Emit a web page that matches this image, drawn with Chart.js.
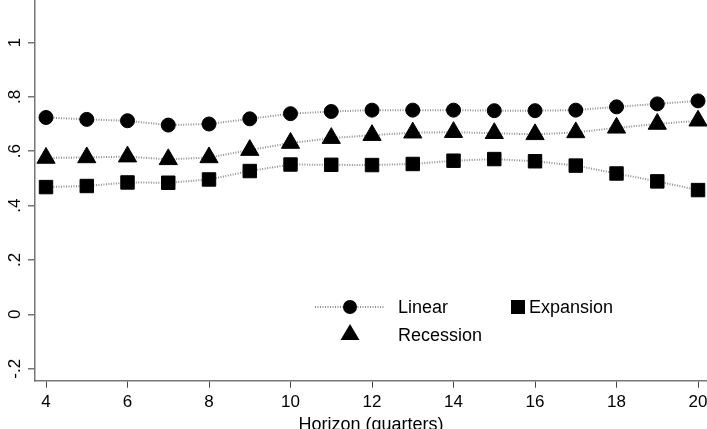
<!DOCTYPE html>
<html>
<head>
<meta charset="utf-8">
<script src="https://cdn.jsdelivr.net/npm/chart.js@4"></script>
<style>
  html, body { margin: 0; padding: 0; background: #fff; }
  #wrap { width: 707px; height: 429px; }
</style>
</head>
<body>
<div id="wrap"><canvas id="chart"></canvas></div>
<script>
const horizons = [4, 5, 6, 7, 8, 9, 10, 11, 12, 13, 14, 15, 16, 17, 18, 19, 20];
const linear    = [0.724, 0.717, 0.712, 0.696, 0.700, 0.719, 0.738, 0.746, 0.751, 0.751, 0.751, 0.749, 0.749, 0.751, 0.763, 0.774, 0.785];
const recession = [0.575, 0.577, 0.580, 0.570, 0.577, 0.604, 0.630, 0.648, 0.659, 0.668, 0.670, 0.666, 0.662, 0.669, 0.686, 0.700, 0.712];
const expansion = [0.468, 0.472, 0.485, 0.484, 0.496, 0.527, 0.551, 0.550, 0.549, 0.553, 0.565, 0.571, 0.563, 0.547, 0.518, 0.489, 0.457];
const xTicks = [4, 6, 8, 10, 12, 14, 16, 18, 20];
const yTicks = [-0.2, 0, 0.2, 0.4, 0.6, 0.8, 1];

const FONT = "'Liberation Sans', Arial, sans-serif";
const lineColor = '#8f8f8f';
const axisColor = '#767676';

const toPoints = ys => horizons.map((h, i) => ({ x: h, y: ys[i] }));
const fmtY = v => {
  if (v === 0) return '0';
  if (v === 1) return '1';
  return v.toFixed(1).replace('0.', '.');
};

function series(label, data, style, radius) {
  return {
    label,
    data: toPoints(data),
    showLine: true,
    clip: false,
    borderColor: lineColor,
    borderWidth: 2,
    borderDash: [1, 1.5],
    pointStyle: style,
    pointRadius: radius,
    pointHoverRadius: radius,
    pointBackgroundColor: '#000',
    pointBorderColor: '#000',
    pointBorderWidth: 1,
    tension: 0
  };
}

// rotated y labels and the Stata-style legend inside the plot
const extras = {
  id: 'extras',
  afterDraw(chart) {
    const ctx = chart.ctx;
    const ys = chart.scales.y;
    ctx.save();
    ctx.fillStyle = '#000';
    ctx.font = '17px ' + FONT;
    ctx.textAlign = 'center';
    ctx.textBaseline = 'middle';
    yTicks.forEach(v => {
      const py = ys.getPixelForValue(v);
      ctx.save();
      ctx.translate(15, py);
      ctx.rotate(-Math.PI / 2);
      ctx.fillText(fmtY(v), 0, 0);
      ctx.restore();
    });

    // legend
    const kx = 350, r1 = 307, r2 = 333;
    ctx.strokeStyle = lineColor;
    ctx.lineWidth = 2;
    ctx.setLineDash([1, 1.5]);
    ctx.beginPath();
    ctx.moveTo(kx - 35, r1);
    ctx.lineTo(kx + 35, r1);
    ctx.stroke();
    ctx.setLineDash([]);
    ctx.fillStyle = '#000';
    ctx.beginPath();
    ctx.arc(kx, r1, 7, 0, Math.PI * 2);
    ctx.fill();
    ctx.beginPath();
    ctx.moveTo(kx, r2 - 9);
    ctx.lineTo(kx + 9.5, r2 + 7);
    ctx.lineTo(kx - 9.5, r2 + 7);
    ctx.closePath();
    ctx.fill();
    ctx.fillRect(511, r1 - 7, 14, 14);

    ctx.textAlign = 'left';
    ctx.font = '18px ' + FONT;
    ctx.fillText('Linear', 398, r1 + 1);
    ctx.fillText('Recession', 398, r2 + 3);
    ctx.fillText('Expansion', 529, r1 + 1);
    ctx.restore();
  }
};

new Chart(document.getElementById('chart'), {
  type: 'scatter',
  data: {
    datasets: [
      series('Linear', linear, 'circle', 7),
      series('Recession', recession, 'triangle', 10.5),
      series('Expansion', expansion, 'rect', 9.5)
    ]
  },
  options: {
    responsive: true,
    maintainAspectRatio: false,
    animation: false,
    layout: { autoPadding: false, padding: 0 },
    plugins: {
      legend: { display: false },
      tooltip: { enabled: false }
    },
    scales: {
      x: {
        type: 'linear',
        min: 3.73,
        max: 20.22,
        afterBuildTicks: s => { s.ticks = xTicks.map(v => ({ value: v })); },
        afterFit: s => { s.height = 48.3; s.paddingLeft = 0; s.paddingRight = 0; },
        grid: { drawOnChartArea: false, drawTicks: true, tickLength: 7, color: '#444', lineWidth: 1 },
        border: { display: true, color: axisColor, width: 1.5 },
        ticks: { color: '#000', font: { family: FONT, size: 17 }, padding: 4, maxRotation: 0 },
        title: { display: true, text: 'Horizon (quarters)', color: '#000', font: { family: FONT, size: 18 }, padding: { top: 0, bottom: -7 } }
      },
      y: {
        min: -0.244,
        max: 1.156,
        afterBuildTicks: s => { s.ticks = yTicks.map(v => ({ value: v })); },
        afterFit: s => { s.width = 35; s.paddingTop = 0; s.paddingBottom = 0; },
        grid: { drawOnChartArea: false, drawTicks: true, tickLength: 7, color: axisColor, lineWidth: 1.5 },
        border: { display: true, color: axisColor, width: 1.5 },
        ticks: { display: false }
      }
    }
  },
  plugins: [extras]
});
</script>
</body>
</html>
